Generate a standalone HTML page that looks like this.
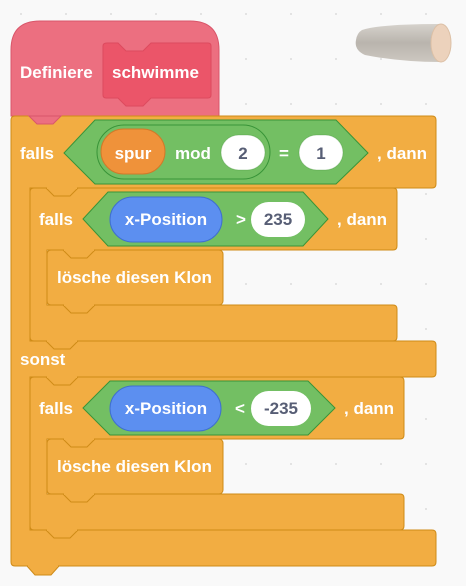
<!DOCTYPE html>
<html><head><style>
html,body{margin:0;padding:0;background:#f9f9f9;}
svg{display:block;}
text{font-family:"Liberation Sans",sans-serif;font-weight:bold;font-size:17px;fill:#fff;}
.n{fill:#575e75;}
</style></head><body>
<svg width="466" height="586" viewBox="0 0 466 586" xmlns="http://www.w3.org/2000/svg">
<defs>
<pattern id="dots" x="20" y="13" width="45" height="45" patternUnits="userSpaceOnUse">
<circle cx="1" cy="1" r="1" fill="#dcdcdc"/>
</pattern>
<linearGradient id="bark" x1="0" y1="0" x2="0" y2="1">
<stop offset="0" stop-color="#d6d2cc"/><stop offset="0.5" stop-color="#b9b4ad"/><stop offset="1" stop-color="#ccc7c0"/>
</linearGradient>
</defs>
<rect width="466" height="586" fill="#f9f9f9"/>
<rect width="466" height="586" fill="url(#dots)"/>

<!-- log -->
<path d="M362,30 Q380,24 440,24 L440,62 Q400,62 365,55 Q354,50 356,40 Q357,33 362,30 Z" fill="url(#bark)"/>
<ellipse cx="441" cy="43" rx="10" ry="19" fill="#ecd2bc" stroke="#dcc0a6"/>

<!-- hat -->
<path d="M11,50 Q11,21 40,21 H190 Q219,21 219,50 V116 H61 L53,124 H37 L29,116 H11 Z" fill="#EC6F80" stroke="#D9566A" stroke-width="1"/>
<path d="M107,43 H118 L126,51 H143 L151,43 H208 Q211,43 211,46 V95 Q211,98 208,98 H151 L143,106 H126 L118,98 H106 Q103,98 103,95 V46 Q103,43 107,43 Z" fill="#EB5569" stroke="#DD4A5E"/>
<text x="20" y="78">Definiere</text>
<text x="112" y="78">schwimme</text>

<!-- outer if/else -->
<path d="M15,116 H432 Q436,116 436,120 V184 Q436,188 432,188 H30 V341 H432 Q436,341 436,345 V373 Q436,377 432,377 H30 V530 H432 Q436,530 436,534 V562 Q436,566 432,566 H15 Q11,566 11,562 V120 Q11,116 15,116 Z" fill="#F2AD42" stroke="#CF8B17"/>
<path d="M29,116 L37,124 H53 L61,116 Z" fill="#EC6F80" stroke="#D9566A"/>

<!-- inner if 1 -->
<path d="M34,188 H393 Q397,188 397,192 V246 Q397,250 393,250 H47 V305 H393 Q397,305 397,309 V337 Q397,341 393,341 H34 Q30,341 30,337 V192 Q30,188 34,188 Z" fill="#F2AD42" stroke="#CF8B17"/>
<rect x="47" y="250" width="176" height="55" rx="4" fill="#F2AD42" stroke="#CF8B17"/>
<!-- inner if 2 -->
<path d="M34,377 H400 Q404,377 404,381 V435 Q404,439 400,439 H47 V494 H400 Q404,494 404,498 V526 Q404,530 400,530 H34 Q30,530 30,526 V381 Q30,377 34,377 Z" fill="#F2AD42" stroke="#CF8B17"/>
<rect x="47" y="439" width="176" height="55" rx="4" fill="#F2AD42" stroke="#CF8B17"/>

<!-- tabs -->
<g fill="#F2AD42" stroke="#CF8B17">
<path d="M46,188 L54,196 H70 L78,188"/>
<path d="M63,250 L71,258 H87 L95,250"/>
<path d="M63,305 L71,313 H87 L95,305"/>
<path d="M46,341 L54,349 H70 L78,341"/>
<path d="M46,377 L54,385 H70 L78,377"/>
<path d="M63,439 L71,447 H87 L95,439"/>
<path d="M63,494 L71,502 H87 L95,494"/>
<path d="M46,530 L54,538 H70 L78,530"/>
<path d="M27,566 L35,575 H51 L59,566"/>
</g>
<g fill="#F2AD42">
<rect x="47" y="187" width="30" height="2"/>
<rect x="64" y="249" width="30" height="2"/>
<rect x="64" y="304" width="30" height="2"/>
<rect x="47" y="340" width="30" height="2"/>
<rect x="47" y="376" width="30" height="2"/>
<rect x="64" y="438" width="30" height="2"/>
<rect x="64" y="493" width="30" height="2"/>
<rect x="47" y="529" width="30" height="2"/>
<rect x="28" y="565" width="30" height="2"/>
</g>

<!-- condition 1 -->
<path d="M95,120 H336 L368,153 L336,184 H95 L64,153 Z" fill="#73BF63" stroke="#389438"/>
<rect x="97" y="125" width="173" height="54" rx="27" fill="#73BF63" stroke="#389438"/>
<rect x="101" y="129" width="64" height="45" rx="22.5" fill="#EF923A" stroke="#D07A2A"/>
<text x="133" y="159" text-anchor="middle">spur</text>
<text x="175" y="159">mod</text>
<rect x="221" y="135" width="44" height="35" rx="17.5" fill="#fff" stroke="#3f8a34" stroke-opacity="0.3"/>
<text class="n" x="243" y="159" text-anchor="middle">2</text>
<text x="284" y="159" text-anchor="middle">=</text>
<rect x="299" y="135" width="44" height="35" rx="17.5" fill="#fff" stroke="#3f8a34" stroke-opacity="0.3"/>
<text class="n" x="321" y="159" text-anchor="middle">1</text>
<text x="20" y="159">falls</text>
<text x="377" y="159">, dann</text>

<!-- condition 2 -->
<path d="M108,192 H303 L328,219 L303,246 H108 L83,219 Z" fill="#73BF63" stroke="#389438"/>
<rect x="110" y="197" width="112" height="45" rx="22.5" fill="#5C8FF0" stroke="#3f6fcf"/>
<text x="166" y="225" text-anchor="middle">x-Position</text>
<text x="236" y="225">&gt;</text>
<rect x="251" y="202" width="54" height="35" rx="17.5" fill="#fff"/>
<text class="n" x="278" y="225" text-anchor="middle">235</text>
<text x="39" y="225">falls</text>
<text x="337" y="225">, dann</text>
<text x="57" y="283">lösche diesen Klon</text>

<text x="20" y="365">sonst</text>

<!-- condition 3 -->
<path d="M110,381 H308 L335,408 L308,435 H110 L83,408 Z" fill="#73BF63" stroke="#389438"/>
<rect x="110" y="386" width="111" height="45" rx="22.5" fill="#5C8FF0" stroke="#3f6fcf"/>
<text x="166" y="414" text-anchor="middle">x-Position</text>
<text x="235" y="414">&lt;</text>
<rect x="251" y="391" width="60" height="35" rx="17.5" fill="#fff"/>
<text class="n" x="281" y="414" text-anchor="middle">-235</text>
<text x="39" y="414">falls</text>
<text x="344" y="414">, dann</text>
<text x="57" y="472">lösche diesen Klon</text>
</svg>
</body></html>
